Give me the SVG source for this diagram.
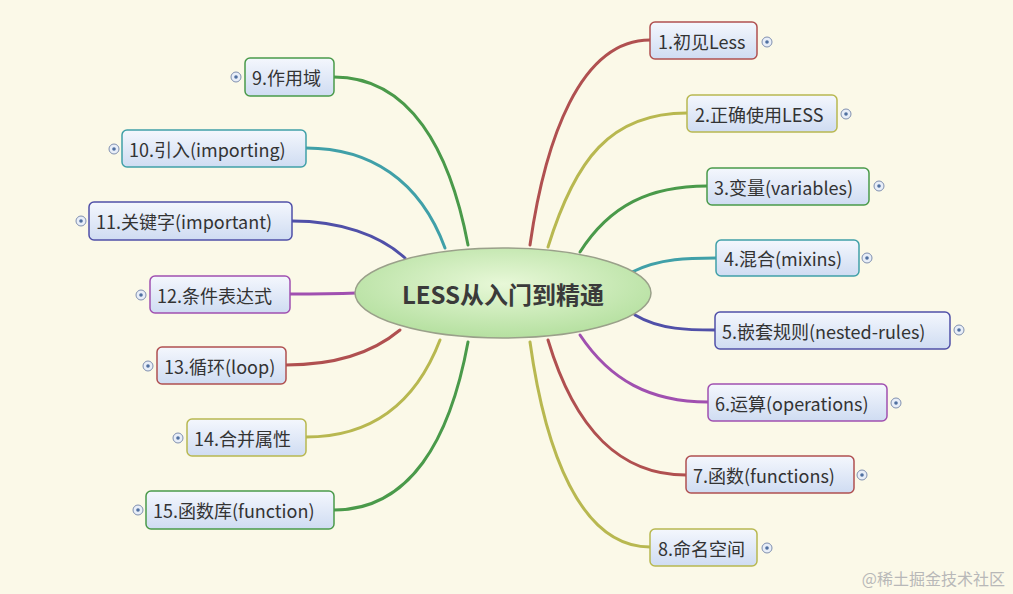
<svg xmlns="http://www.w3.org/2000/svg" width="1013" height="594" viewBox="0 0 1013 594">
<defs>
<linearGradient id="nb" x1="0" y1="0" x2="0" y2="1"><stop offset="0" stop-color="#f4f7fd"/><stop offset="1" stop-color="#cfdcf2"/></linearGradient>
<radialGradient id="cg" cx="0.5" cy="0.4" r="0.6"><stop offset="0" stop-color="#e8f8d8"/><stop offset="1" stop-color="#b5e0a0"/></radialGradient>
<style>
text{font-family:"Noto Sans CJK SC","Noto Sans",sans-serif;font-size:18px;fill:#333;dominant-baseline:central}
.n rect{fill:url(#nb);stroke-width:1.5}
.e{fill:none;stroke-width:3;stroke-linecap:round}
.ic{fill:#e8eef8;stroke:#8090b0;stroke-width:1}
.dt{fill:#5070a0}
.r{stroke:#b05050}.y{stroke:#b8b850}.g{stroke:#4a9a4a}.t{stroke:#40a0a8}.i{stroke:#5050a8}.p{stroke:#a050b0}
</style>
</defs>
<rect width="1013" height="594" fill="#fbf9e8"/>
<g id="connectors">
<path class="e r" d="M530,245 C545,140 580,40 650,40"/>
<path class="e y" d="M548,247 C575,160 610,113 687,113"/>
<path class="e g" d="M580,252 C610,205 650,186 707,186"/>
<path class="e t" d="M632,272 C660,258 690,258 716,258"/>
<path class="e i" d="M635,315 C660,330 690,330 715,330"/>
<path class="e p" d="M580,335 C610,380 650,402 708,402"/>
<path class="e r" d="M548,340 C575,430 620,475 686,475"/>
<path class="e y" d="M530,342 C545,450 580,547 650,547"/>
<path class="e g" d="M468,245 C450,150 410,77 334,77"/>
<path class="e t" d="M445,248 C420,180 370,148 306,148"/>
<path class="e i" d="M405,258 C380,235 340,221 292,221"/>
<path class="e p" d="M357,293 C330,294 310,294 290,294"/>
<path class="e r" d="M400,330 C370,355 330,365 286,365"/>
<path class="e y" d="M440,340 C415,405 370,437 306,437"/>
<path class="e g" d="M468,342 C450,440 410,510 334,510"/>
</g>
<g id="center"><ellipse cx="503" cy="293" rx="148" ry="45" fill="url(#cg)" stroke="#9aa08a" stroke-width="1.5"/><text x="503" y="293" text-anchor="middle" style="font-size:24px;font-weight:bold;fill:#3a3a3a">LESS从入门到精通</text></g>
<g id="n1" class="n"><rect class="r" x="650" y="22" width="107" height="37" rx="5"/><text x="658" y="41">1.初见Less</text><circle class="ic" cx="767" cy="42" r="5"/><circle class="dt" cx="767" cy="42" r="1.8"/></g>
<g id="n2" class="n"><rect class="y" x="687" y="95" width="150" height="37" rx="5"/><text x="695" y="114">2.正确使用LESS</text><circle class="ic" cx="846" cy="114" r="5"/><circle class="dt" cx="846" cy="114" r="1.8"/></g>
<g id="n3" class="n"><rect class="g" x="707" y="168" width="162" height="37" rx="5"/><text x="714" y="187">3.变量(variables)</text><circle class="ic" cx="879" cy="186" r="5"/><circle class="dt" cx="879" cy="186" r="1.8"/></g>
<g id="n4" class="n"><rect class="t" x="716" y="240" width="143" height="36" rx="5"/><text x="724" y="258">4.混合(mixins)</text><circle class="ic" cx="867" cy="258" r="5"/><circle class="dt" cx="867" cy="258" r="1.8"/></g>
<g id="n5" class="n"><rect class="i" x="715" y="312" width="235" height="37" rx="5"/><text x="722" y="331">5.嵌套规则(nested-rules)</text><circle class="ic" cx="959" cy="330" r="5"/><circle class="dt" cx="959" cy="330" r="1.8"/></g>
<g id="n6" class="n"><rect class="p" x="708" y="384" width="179" height="37" rx="5"/><text x="715" y="403">6.运算(operations)</text><circle class="ic" cx="896" cy="403" r="5"/><circle class="dt" cx="896" cy="403" r="1.8"/></g>
<g id="n7" class="n"><rect class="r" x="686" y="456" width="168" height="37" rx="5"/><text x="693" y="475">7.函数(functions)</text><circle class="ic" cx="862" cy="475" r="5"/><circle class="dt" cx="862" cy="475" r="1.8"/></g>
<g id="n8" class="n"><rect class="y" x="650" y="529" width="107" height="37" rx="5"/><text x="658" y="548">8.命名空间</text><circle class="ic" cx="767" cy="548" r="5"/><circle class="dt" cx="767" cy="548" r="1.8"/></g>
<g id="n9" class="n"><rect class="g" x="245" y="58" width="89" height="38" rx="5"/><text x="252" y="77">9.作用域</text><circle class="ic" cx="236" cy="77" r="5"/><circle class="dt" cx="236" cy="77" r="1.8"/></g>
<g id="n10" class="n"><rect class="t" x="122" y="130" width="184" height="37" rx="5"/><text x="129" y="149">10.引入(importing)</text><circle class="ic" cx="114" cy="149" r="5"/><circle class="dt" cx="114" cy="149" r="1.8"/></g>
<g id="n11" class="n"><rect class="i" x="89" y="202" width="203" height="38" rx="5"/><text x="96" y="221">11.关键字(important)</text><circle class="ic" cx="81" cy="221" r="5"/><circle class="dt" cx="81" cy="221" r="1.8"/></g>
<g id="n12" class="n"><rect class="p" x="150" y="276" width="140" height="37" rx="5"/><text x="157" y="295">12.条件表达式</text><circle class="ic" cx="141" cy="295" r="5"/><circle class="dt" cx="141" cy="295" r="1.8"/></g>
<g id="n13" class="n"><rect class="r" x="157" y="347" width="129" height="37" rx="5"/><text x="164" y="366">13.循环(loop)</text><circle class="ic" cx="148" cy="366" r="5"/><circle class="dt" cx="148" cy="366" r="1.8"/></g>
<g id="n14" class="n"><rect class="y" x="187" y="419" width="119" height="37" rx="5"/><text x="194" y="438">14.合并属性</text><circle class="ic" cx="178" cy="438" r="5"/><circle class="dt" cx="178" cy="438" r="1.8"/></g>
<g id="n15" class="n"><rect class="g" x="146" y="491" width="188" height="38" rx="5"/><text x="153" y="510">15.函数库(function)</text><circle class="ic" cx="138" cy="510" r="5"/><circle class="dt" cx="138" cy="510" r="1.8"/></g>
<text x="1005" y="578" text-anchor="end" style="font-size:16px;fill:#b8b8b8">@稀土掘金技术社区</text>
</svg>
